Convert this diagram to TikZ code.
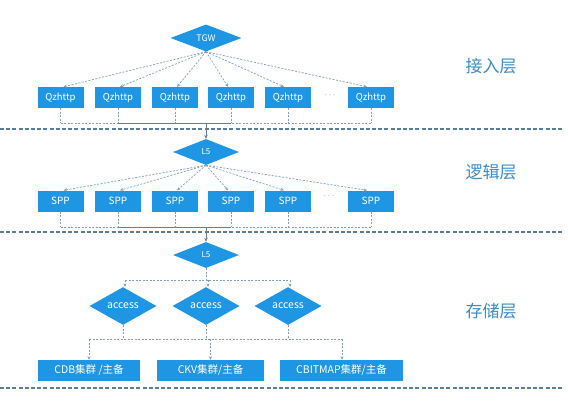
\documentclass[tikz,border=0pt]{standalone}
\usepackage{fontspec}
\setmainfont{Noto Sans CJK SC}
\usetikzlibrary{shapes.geometric,arrows.meta}
\definecolor{boxblue}{RGB}{30,150,228}
\definecolor{linegray}{RGB}{130,158,182}
\definecolor{sepgray}{RGB}{90,125,155}
\definecolor{labelblue}{RGB}{60,140,200}
\begin{document}
\begin{tikzpicture}[x=1pt,y=-1pt,
  bluebox/.style={rectangle,fill=boxblue,text=white,inner sep=0pt,minimum height=21pt,font=\fontsize{9.5}{10}\selectfont},
  smallbox/.style={bluebox,minimum width=46pt},
  bluedia/.style={diamond,fill=boxblue,text=white,inner sep=0pt,font=\fontsize{9}{10}\selectfont},
  dline/.style={draw=linegray,line width=0.7pt,dash pattern=on 2pt off 1.5pt},
  darr/.style={dline,-{Stealth[length=3.5pt,width=3pt]}},
  sline/.style={draw=linegray!80!black,line width=0.7pt},
  sarr/.style={sline,-{Stealth[length=4pt,width=3.5pt]}},
  sep/.style={draw=sepgray,line width=1.2pt,dash pattern=on 4pt off 2.2pt},
  layer/.style={text=labelblue,font=\fontsize{17}{19}\selectfont}]
\useasboundingbox (0,0) rectangle (568,402);
\fill[white] (0,0) rectangle (568,402);

% separators
\coordinate (s1a) at (0,129); \coordinate (s1b) at (562,129);
\coordinate (s2a) at (0,232); \coordinate (s2b) at (562,232);
\coordinate (s3a) at (0,388); \coordinate (s3b) at (562,388);
\draw[sep] (s1a) -- (s1b);
\draw[sep] (s2a) -- (s2b);
\draw[sep] (s3a) -- (s3b);

% layer labels
\node[layer] (lab1) at (491,66) {接入层};
\node[layer] (lab2) at (491,172) {逻辑层};
\node[layer] (lab3) at (491,311) {存储层};

% ---------- access layer ----------
\node[bluedia,minimum width=71pt,minimum height=27pt] (tgw) at (206,38) {TGW};
\foreach \i/\x in {1/60.5,2/118,3/175,4/231,5/288,6/371}{
  \node[smallbox] (q\i) at (\x,97.5) {Qzhttp};
}
\node[text=gray,font=\fontsize{9}{10}\selectfont] (qdots) at (330,95) {$\cdots$};
\draw[darr] (tgw.south) -- ([xshift=3pt]q1.north);
\draw[darr] (tgw.south) -- ([xshift=2pt]q2.north);
\draw[darr] (tgw.south) -- ([xshift=2pt]q3.north);
\draw[darr] (tgw.south) -- ([xshift=-3pt]q4.north);
\draw[darr] (tgw.south) -- ([xshift=-4pt]q5.north);
\draw[darr] (tgw.south) -- ([xshift=-4pt]q6.north);
\foreach \i in {1,...,6}{
  \coordinate (qc\i) at (q\i.south |- 0,123);
  \draw[dline] (q\i.south) -- (qc\i);
}
\coordinate (qmid) at (206,123);
\draw[dline] (qc1) -- (qc6);
\draw[sline] (qc2) -- (qc4);

% ---------- logic layer ----------
\node[bluedia,minimum width=66pt,minimum height=26pt,font=\fontsize{8}{9}\selectfont] (l5a) at (206,152) {L5};
\draw[sarr] (qmid) -- (l5a.north);
\foreach \i/\x in {1/60.5,2/118,3/175,4/231,5/288,6/371}{
  \node[smallbox,font=\fontsize{10}{11}\selectfont] (p\i) at (\x,201) {SPP};
}
\node[text=gray,font=\fontsize{9}{10}\selectfont] (pdots) at (329,196) {$\cdots$};
\draw[darr] (l5a.south) -- ([xshift=3pt]p1.north);
\draw[darr] (l5a.south) -- ([xshift=2pt]p2.north);
\draw[darr] (l5a.south) -- ([xshift=2pt]p3.north);
\draw[darr] (l5a.south) -- ([xshift=-3pt]p4.north);
\draw[darr] (l5a.south) -- ([xshift=-4pt]p5.north);
\draw[darr] (l5a.south) -- ([xshift=-4pt]p6.north);
\foreach \i in {1,...,6}{
  \coordinate (pc\i) at (p\i.south |- 0,227);
  \draw[dline] (p\i.south) -- (pc\i);
}
\coordinate (pmid) at (206,227);
\draw[dline] (pc1) -- (pc6);
\draw[sline] (pc2) -- (pc4);

% ---------- storage layer ----------
\node[bluedia,minimum width=66pt,minimum height=26pt,font=\fontsize{8}{9}\selectfont] (l5b) at (206,255) {L5};
\draw[sarr] (pmid) -- (l5b.north);
\node[bluedia,minimum width=67pt,minimum height=26pt,font=\fontsize{10.5}{11}\selectfont] (a1) at (123,306) {access};
\node[bluedia,minimum width=67pt,minimum height=26pt,font=\fontsize{10.5}{11}\selectfont] (a2) at (206,306) {access};
\node[bluedia,minimum width=67pt,minimum height=26pt,font=\fontsize{10.5}{11}\selectfont] (a3) at (288,306) {access};
\coordinate (lb) at (206,280);
\coordinate (lbl) at (125,280);
\coordinate (lbr) at (290,280);
\draw[dline] (l5b.south) -- (lb);
\draw[dline] (lbl) -- (lbr);
\draw[darr] (lbl) -- ([xshift=2pt]a1.north);
\draw[darr] ([xshift=2pt]lb) -- ([xshift=2pt]a2.north);
\draw[darr] (lbr) -- ([xshift=2pt]a3.north);

\node[bluebox,minimum width=102pt,font=\fontsize{10.5}{11}\selectfont] (cdb) at (89,370.5) {CDB集群 /主备};
\node[bluebox,minimum width=107pt,font=\fontsize{10.5}{11}\selectfont] (ckv) at (210.5,370.5) {CKV集群/主备};
\node[bluebox,minimum width=123pt,font=\fontsize{10.5}{11}\selectfont] (cbm) at (341.5,370.5) {CBITMAP集群/主备};
\coordinate (bl) at (89,339);
\coordinate (br) at (342,339);
\draw[dline] (a1.south) -- (a1.south |- bl);
\draw[dline] (a2.south) -- (a2.south |- bl);
\draw[dline] (a3.south) -- (a3.south |- bl);
\draw[dline] (bl) -- (br);
\draw[darr] (bl) -- (cdb.north -| bl);
\draw[darr] (ckv.north |- bl) -- (ckv.north);
\draw[darr] (br) -- (cbm.north -| br);
\end{tikzpicture}
\end{document}
